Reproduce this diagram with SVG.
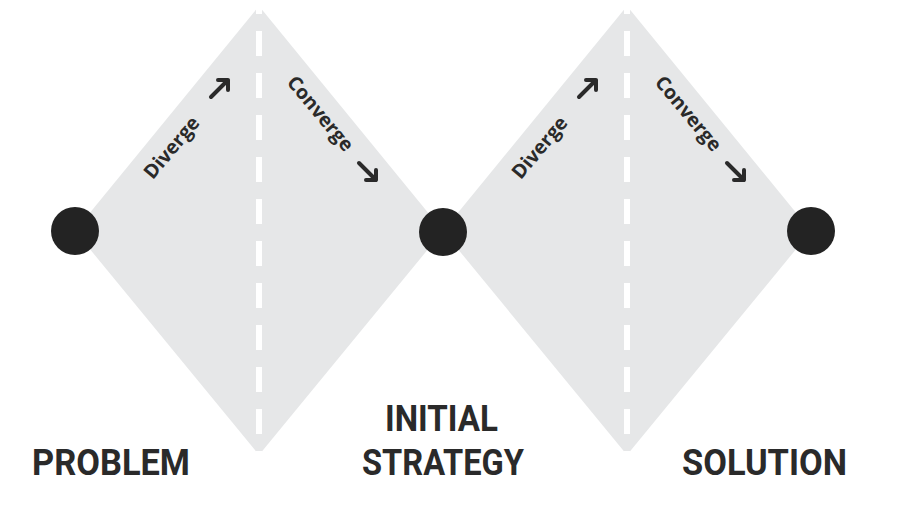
<svg xmlns="http://www.w3.org/2000/svg" width="904" height="511" viewBox="0 0 904 511">
<defs>
<style>
.dia{fill:#e6e7e8;}
.dash{stroke:#ffffff;stroke-width:6;stroke-dasharray:25 17;stroke-dashoffset:11;fill:none;}
.node{fill:#232323;}
.lbl{font-family:"Open Sans","DejaVu Sans",sans-serif;font-weight:700;font-size:19.5px;fill:#2a2a2a;text-anchor:middle;dominant-baseline:central;}
.big{font-family:Roboto,"Liberation Sans",sans-serif;font-weight:700;font-size:37px;fill:#2a2a2a;}
.arr{stroke:#2a2a2a;stroke-width:4;fill:none;stroke-linecap:round;stroke-linejoin:round;}
</style>
</defs>
<g id="diamond-1">
<polygon class="dia" points="75,231 259,6 443,231 259,455"/>
<line class="dash" x1="259" y1="0" x2="259" y2="455"/>
<text class="lbl" transform="translate(171,147) rotate(-50)">Diverge</text>
<path class="arr" d="M211,97 L228,80 M218,80 L228,80 L228,90"/>
<text class="lbl" transform="translate(321,113) rotate(50)">Converge</text>
<path class="arr" d="M359,163 L376,180 M366,180 L376,180 L376,170"/>
</g>
<g id="diamond-2">
<polygon class="dia" points="443,231 627,6 811,231 627,455"/>
<line class="dash" x1="627" y1="0" x2="627" y2="455"/>
<text class="lbl" transform="translate(539,147) rotate(-50)">Diverge</text>
<path class="arr" d="M579,97 L596,80 M586,80 L596,80 L596,90"/>
<text class="lbl" transform="translate(689,113) rotate(50)">Converge</text>
<path class="arr" d="M727,163 L744,180 M734,180 L744,180 L744,170"/>
</g>
<g id="connectors"></g>
<g id="problem">
<circle class="node" cx="75" cy="231" r="24"/>
<text class="big" x="32" y="475" textLength="158" lengthAdjust="spacingAndGlyphs">PROBLEM</text>
</g>
<g id="initial-strategy">
<circle class="node" cx="443" cy="232" r="24"/>
<text class="big" x="385" y="431" textLength="113" lengthAdjust="spacingAndGlyphs">INITIAL</text>
<text class="big" x="362" y="475" textLength="162" lengthAdjust="spacingAndGlyphs">STRATEGY</text>
</g>
<g id="solution">
<circle class="node" cx="811" cy="231" r="24"/>
<text class="big" x="682" y="475" textLength="165" lengthAdjust="spacingAndGlyphs">SOLUTION</text>
</g>
</svg>
